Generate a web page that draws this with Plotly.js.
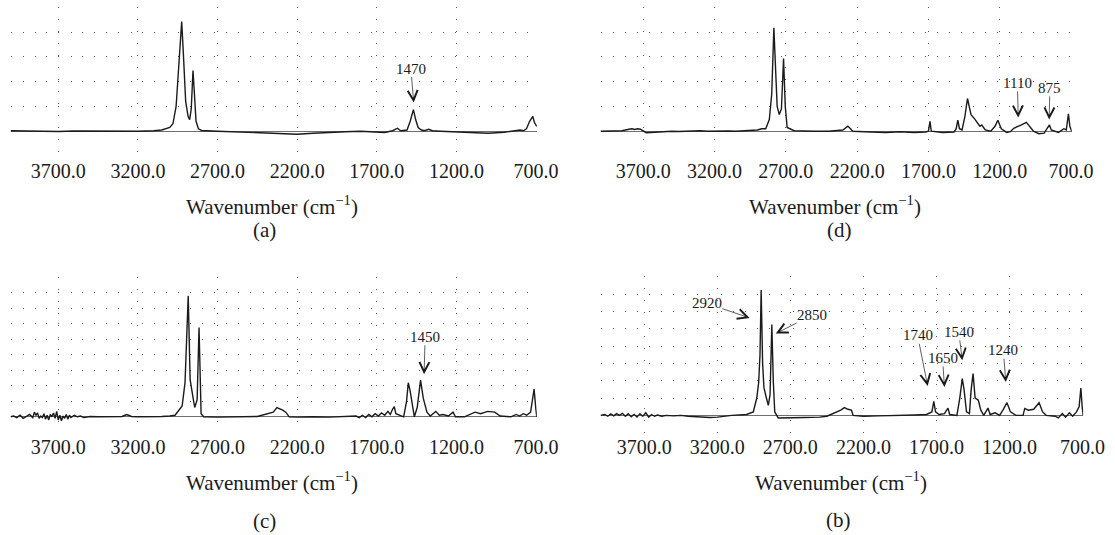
<!DOCTYPE html>
<html>
<head>
<meta charset="utf-8">
<script src="https://cdn.plot.ly/plotly-3.0.1.min.js"></script>
<style>
html,body{margin:0;padding:0;background:#fff;}
#chart{width:1115px;height:535px;}
</style>
</head>
<body>
<div id="chart"></div>
<script>
// ---------- data ----------
const tickValues = [3700, 3200, 2700, 2200, 1700, 1200, 700];
const tickLabels = ['3700.0', '3200.0', '2700.0', '2200.0', '1700.0', '1200.0', '700.0'];
const axisTitle = 'Wavenumber (cm<sup>\u22121</sup>)';
const panelLetters = ['(a)', '(d)', '(c)', '(b)'];

// Panel (a)
const waveA = [4000,3900,3800,3700,3600,3500,3400,3300,3200,3100,3050,3000,2980,2960,2940,2925,2915,2900,2885,2875,2865,2854,2845,2835,2820,2800,2700,2600,2500,2400,2300,2200,2100,2000,1900,1800,1700,1650,1600,1570,1550,1510,1490,1470,1455,1440,1420,1400,1375,1350,1300,1200,1100,1000,900,850,800,780,760,740,720,710,695];
const absA  = [0.02,0.0,0.01,-0.01,0.01,0.0,0.0,0.01,0.0,0.02,0.05,0.15,0.3,1.0,2.8,4.43,3.2,1.2,0.6,0.47,0.9,2.45,1.5,0.4,0.1,0.03,0.0,-0.02,-0.04,-0.08,-0.1,-0.12,-0.08,-0.04,-0.02,0.0,-0.02,-0.05,0.02,0.12,0.02,0.05,0.4,0.87,0.45,0.15,0.05,0.02,0.08,0.02,0.0,-0.03,-0.05,-0.08,-0.04,0.0,0.05,0.02,0.1,0.4,0.6,0.35,0.2];

// Panel (d)
const waveD = [4000,3950,3900,3850,3800,3780,3760,3740,3720,3700,3680,3650,3600,3550,3500,3450,3400,3350,3300,3250,3200,3150,3100,3050,3000,2950,2900,2870,2841,2816,2799,2784,2771,2761,2746,2731,2716,2704,2691,2641,2500,2400,2300,2280,2265,2250,2230,2100,2000,1900,1800,1720,1700,1689,1680,1600,1520,1505,1494,1482,1464,1444,1426,1414,1401,1376,1351,1339,1326,1301,1263,1233,1213,1189,1151,1126,1101,1076,1051,1013,988,963,926,888,863,851,838,788,750,733,718,708,695];
const absD  = [0.0,0.01,-0.01,0.02,0.08,0.1,0.07,0.1,0.08,0.0,-0.06,-0.05,-0.03,-0.02,0.0,-0.01,0.01,0.0,0.02,0.0,0.01,0.0,0.01,0.0,0.02,0.01,0.05,0.1,0.1,0.47,1.5,4.17,2.0,1.0,0.67,0.9,2.93,1.0,0.15,0.02,0.0,0.0,0.05,0.15,0.2,0.12,0.0,-0.03,-0.05,-0.02,-0.05,-0.03,0.0,0.4,0.0,-0.05,-0.03,0.1,0.45,0.1,0.05,0.6,1.32,1.0,0.67,0.5,0.3,0.2,0.25,0.05,0.0,0.2,0.44,0.1,-0.05,-0.02,0.12,0.2,0.25,0.36,0.2,0.0,-0.1,-0.08,0.15,0.25,0.05,-0.05,0.1,0.05,0.7,0.2,0.0];

// Panel (c)
const waveC = [4000,3980,3960,3940,3920,3900,3880,3860,3850,3840,3830,3820,3810,3800,3790,3780,3770,3760,3750,3740,3730,3720,3710,3700,3690,3680,3670,3660,3650,3640,3630,3620,3600,3580,3560,3540,3520,3500,3450,3400,3350,3300,3270,3240,3200,3100,3050,3000,2967,2922,2904,2884,2872,2854,2843,2828,2816,2803,2787,2700,2600,2500,2450,2350,2327,2294,2271,2250,2200,2100,2000,1830,1810,1790,1770,1750,1730,1710,1690,1670,1650,1630,1615,1600,1590,1580,1531,1513,1502,1491,1475,1464,1446,1425,1408,1385,1364,1329,1307,1284,1250,1221,1206,1150,1082,1048,1004,959,925,858,824,803,780,758,734,712,701,695];
const absC  = [0.0,0.05,-0.05,0.1,-0.1,0.05,0.15,-0.05,0.3,0.1,0.25,-0.1,0.05,-0.05,0.2,-0.15,0.1,-0.2,0.15,0.0,0.25,-0.1,0.35,-0.2,0.1,-0.25,0.05,-0.1,0.15,-0.15,0.1,-0.05,0.1,0.0,0.05,-0.05,0.0,0.02,0.0,0.01,0.0,0.02,0.15,0.02,0.0,0.0,0.02,0.05,0.1,0.7,2.2,7.8,2.4,1.25,0.6,1.1,5.76,0.2,0.0,-0.02,0.0,0.0,0.02,0.3,0.6,0.45,0.3,0.0,-0.02,0.0,-0.02,0.05,-0.05,0.1,-0.05,0.15,0.0,0.2,0.05,0.25,0.1,0.35,0.15,0.5,0.65,0.2,0.0,1.0,2.2,1.7,0.5,0.0,0.6,2.37,1.2,0.3,0.05,0.35,0.1,0.15,0.05,0.3,0.0,0.0,0.3,0.2,0.35,0.3,0.05,0.0,0.15,0.05,0.2,0.1,0.3,1.79,0.5,0.0];

// Panel (b)
const waveB = [4000,3970,3950,3930,3910,3890,3870,3850,3830,3810,3790,3770,3750,3730,3710,3690,3670,3650,3630,3610,3580,3550,3500,3450,3400,3350,3300,3250,3200,3150,3100,3000,2979,2954,2930,2917,2908,2900,2890,2881,2864,2851,2839,2827,2817,2807,2783,2700,2600,2500,2450,2355,2330,2306,2282,2270,2200,2100,2000,1900,1850,1768,1731,1718,1706,1682,1645,1621,1609,1560,1540,1523,1511,1494,1474,1462,1449,1435,1413,1396,1376,1347,1332,1298,1267,1242,1217,1193,1156,1107,1095,1071,1034,997,973,948,887,865,838,816,789,767,741,723,711,701,695];
const absB  = [0.0,0.05,-0.05,0.08,-0.03,0.1,0.0,0.12,-0.05,0.1,-0.08,0.06,-0.1,0.1,-0.05,0.15,-0.1,0.05,-0.05,0.02,-0.05,0.0,-0.03,0.0,-0.05,-0.08,-0.1,-0.12,-0.1,-0.05,0.0,0.05,0.1,0.2,1.0,1.9,3.5,7.23,3.0,1.6,1.0,0.58,1.2,5.24,2.0,0.2,-0.15,-0.15,-0.12,-0.1,-0.05,0.3,0.45,0.35,0.3,0.0,-0.05,-0.03,-0.02,0.0,0.02,0.05,0.2,0.81,0.2,0.05,0.1,0.42,0.05,0.0,1.0,2.12,1.5,0.2,0.1,1.5,2.41,1.0,0.87,0.3,0.0,0.42,0.05,0.15,0.0,0.35,0.73,0.2,0.0,0.0,0.4,0.3,0.35,0.73,0.2,0.0,-0.05,-0.15,0.1,-0.1,0.15,-0.05,0.2,0.5,1.58,0.4,0.0];

// Peak labels: [panel, label, peak wavenumber, peak y, text wavenumber, text y]
const peakLabels = [
  ['a', '1470', 1468, 1.16, 1486, 2.53],
  ['d', '1110', 1070, 0.55, 1076, 1.95],
  ['d', '875', 853, 0.47, 848, 1.75],
  ['c', '1450', 1403, 2.75, 1396, 5.16],
  ['b', '2920', 2979, 5.62, 3272, 6.46],
  ['b', '2850', 2800, 4.72, 2551, 5.78],
  ['b', '1740', 1760, 1.70, 1829, 4.62],
  ['b', '1650', 1645, 1.64, 1658, 3.31],
  ['b', '1540', 1523, 3.18, 1547, 4.82],
  ['b', '1240', 1225, 1.92, 1242, 3.76]
];

// ---------- drawing ----------
const W = 1115, H = 535;
const serif = 'Liberation Serif, Times New Roman, serif';
const ink = '#1a1a1a';

const axisSuffix = {a: '', d: '2', c: '3', b: '4'};
const panels = {
  a: {x: waveA, y: absA},
  d: {x: waveD, y: absD},
  c: {x: waveC, y: absC},
  b: {x: waveB, y: absB}
};

const traces = Object.keys(panels).map(k => ({
  type: 'scatter', mode: 'lines',
  x: panels[k].x, y: panels[k].y,
  xaxis: 'x' + axisSuffix[k], yaxis: 'y' + axisSuffix[k],
  line: {color: ink, width: 1.4},
  hoverinfo: 'skip', showlegend: false
}));

function px2fx(p) { return p / W; }
function py2fy(p) { return 1 - p / H; }

function xAxis(domPx, anchor) {
  return {
    domain: [px2fx(domPx[0]), px2fx(domPx[1])],
    range: [4000, 695], anchor: anchor,
    tickmode: 'array', tickvals: tickValues, ticktext: tickLabels,
    ticks: '', showline: false, zeroline: false,
    showgrid: true, gridcolor: '#5a5a5a', gridwidth: 1, griddash: '1px,11px',
    tickfont: {family: serif, size: 20, color: ink}
  };
}
function yAxis(domPx, top, anchor) {
  return {
    domain: [py2fy(domPx[1]), py2fy(domPx[0])],
    range: [-1.03, top + 0.03], anchor: anchor,
    dtick: 1, tick0: 0, showticklabels: false, ticks: '',
    showline: false,
    showgrid: true, gridcolor: '#5a5a5a', gridwidth: 1, griddash: '1px,11px',
    zeroline: true, zerolinecolor: '#6e6e6e', zerolinewidth: 1.2
  };
}

// pixel geometry of the four plot areas
const layout = {
  width: W, height: H,
  margin: {l: 0, r: 0, t: 0, b: 0},
  paper_bgcolor: '#fff', plot_bgcolor: 'rgba(0,0,0,0)',
  showlegend: false,
  xaxis:  xAxis([10.5, 536.8], 'y'),
  yaxis:  yAxis([6.56, 156.74], 5, 'x'),
  xaxis2: xAxis([600.5, 1071.7], 'y2'),
  yaxis2: yAxis([6.56, 156.74], 5, 'x2'),
  xaxis3: xAxis([10.5, 536.8], 'y3'),
  yaxis3: yAxis([276.83, 432.77], 9, 'x3'),
  xaxis4: xAxis([600.5, 1083.2], 'y4'),
  yaxis4: yAxis([276.18, 433.22], 8, 'x4'),
  annotations: []
};

// axis titles and panel letters
const titlePos = [[272, 205.7], [835, 205.7], [272, 481.7], [841, 481.7]];
const letterPos = [[264, 230], [839, 230], [264, 521], [838, 520]];
titlePos.forEach((p, i) => {
  layout.annotations.push({
    xref: 'paper', yref: 'paper', x: px2fx(p[0]), y: py2fy(p[1]),
    xanchor: 'center', yanchor: 'middle', showarrow: false,
    text: axisTitle, font: {family: serif, size: 21, color: ink}
  });
  layout.annotations.push({
    xref: 'paper', yref: 'paper', x: px2fx(letterPos[i][0]), y: py2fy(letterPos[i][1]),
    xanchor: 'center', yanchor: 'middle', showarrow: false,
    text: panelLetters[i], font: {family: serif, size: 21, color: ink}
  });
});

// peak labels with arrows
peakLabels.forEach(p => {
  const s = axisSuffix[p[0]];
  layout.annotations.push({
    xref: 'x' + s, yref: 'y' + s, axref: 'x' + s, ayref: 'y' + s,
    x: p[2], y: p[3], ax: p[4], ay: p[5],
    text: p[1], showarrow: true,
    arrowhead: 5, arrowsize: 2.8, arrowwidth: 0.7, arrowcolor: ink,
    standoff: 0, startstandoff: 0, borderpad: 0,
    font: {family: serif, size: 15, color: ink}
  });
});

Plotly.newPlot('chart', traces, layout, {staticPlot: true, displayModeBar: false});
</script>
</body>
</html>
